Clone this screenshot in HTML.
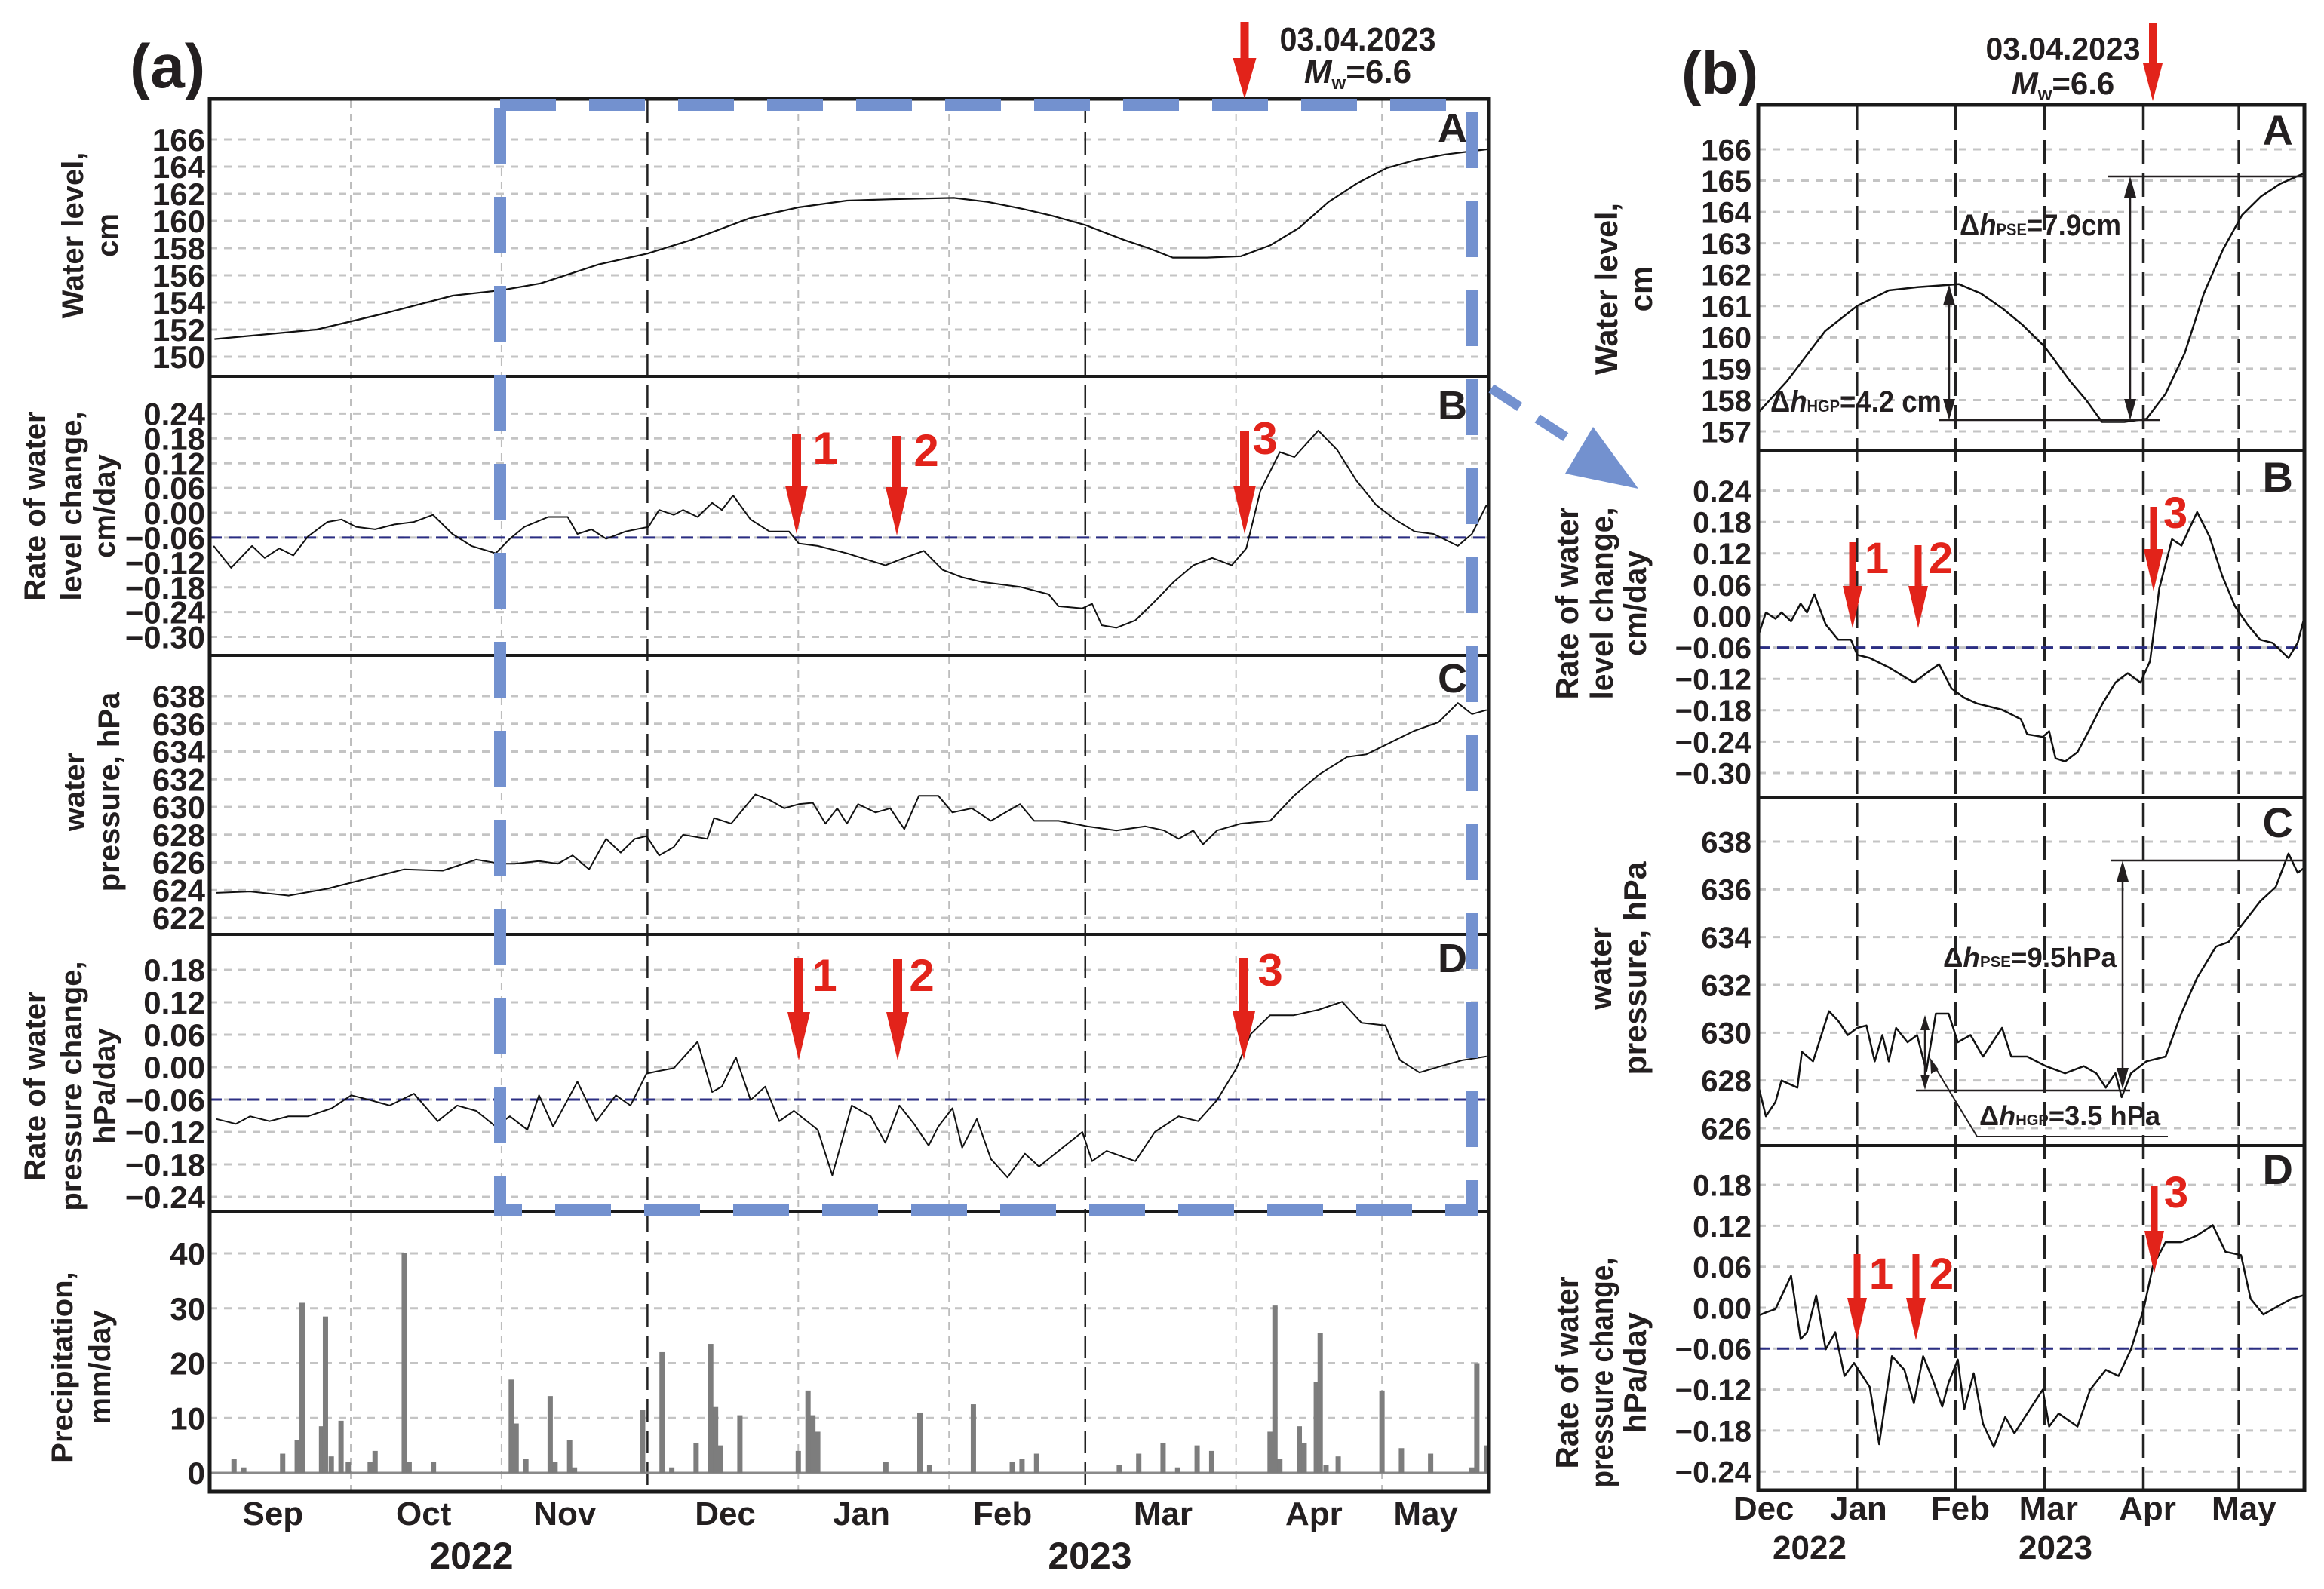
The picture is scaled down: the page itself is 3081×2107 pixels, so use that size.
<!DOCTYPE html>
<html><head><meta charset="utf-8">
<style>
html,body{margin:0;padding:0;background:#fff}
svg{display:block}
text{font-family:"Liberation Sans",Arial,sans-serif;font-weight:bold;fill:#231f20}
</style></head>
<body>
<svg id="fig" width="3081" height="2107" viewBox="0 0 3081 2107" xmlns="http://www.w3.org/2000/svg">
<rect width="3081" height="2107" fill="#ffffff"/>
<defs id="defs"></defs>
<g id="grid"></g>
<g id="series"></g>
<g id="frames"></g>
<g id="labels"></g>

<!-- panel titles -->
<text x="172" y="116" font-size="82">(a)</text>
<text x="2229" y="124" font-size="80">(b)</text>

<text x="1800" y="67" font-size="44" text-anchor="middle" textLength="207" lengthAdjust="spacingAndGlyphs">03.04.2023</text>
<text x="1800" y="110" font-size="44" text-anchor="middle"><tspan font-style="italic">M</tspan><tspan font-size="24" dy="8">w</tspan><tspan dy="-8">=6.6</tspan></text>
<text x="2735" y="79" font-size="42" text-anchor="middle" textLength="205" lengthAdjust="spacingAndGlyphs">03.04.2023</text>
<text x="2735" y="125" font-size="42" text-anchor="middle"><tspan font-style="italic">M</tspan><tspan font-size="24" dy="8">w</tspan><tspan dy="-8">=6.6</tspan></text>

<!-- panel letters -->
<text x="1945" y="188" font-size="54" text-anchor="end">A</text>
<text x="1945" y="556" font-size="54" text-anchor="end">B</text>
<text x="1945" y="918" font-size="54" text-anchor="end">C</text>
<text x="1945" y="1289" font-size="54" text-anchor="end">D</text>
<text x="3040" y="192" font-size="56" text-anchor="end">A</text>
<text x="3040" y="652" font-size="56" text-anchor="end">B</text>
<text x="3040" y="1110" font-size="56" text-anchor="end">C</text>
<text x="3040" y="1570" font-size="56" text-anchor="end">D</text>

<!-- y axis titles (a) -->
<g font-size="40" text-anchor="middle">
<text transform="translate(110,312) rotate(-90)">Water level,</text>
<text transform="translate(156,312) rotate(-90)">cm</text>
<text transform="translate(60,671) rotate(-90)">Rate of water</text>
<text transform="translate(108,671) rotate(-90)">level change,</text>
<text transform="translate(152,671) rotate(-90)">cm/day</text>
<text transform="translate(112,1050) rotate(-90)">water</text>
<text transform="translate(158,1050) rotate(-90)">pressure, hPa</text>
<text transform="translate(60,1440) rotate(-90)">Rate of water</text>
<text transform="translate(108,1440) rotate(-90)">pressure change,</text>
<text transform="translate(152,1440) rotate(-90)">hPa/day</text>
<text transform="translate(96,1813) rotate(-90)">Precipitation,</text>
<text transform="translate(146,1813) rotate(-90)">mm/day</text>
</g>
<!-- y axis titles (b) -->
<g font-size="42" text-anchor="middle">
<text transform="translate(2144,383) rotate(-90)" textLength="228" lengthAdjust="spacingAndGlyphs">Water level,</text>
<text transform="translate(2190,383) rotate(-90)">cm</text>
<text transform="translate(2092,800) rotate(-90)" textLength="255" lengthAdjust="spacingAndGlyphs">Rate of water</text>
<text transform="translate(2138,800) rotate(-90)" textLength="255" lengthAdjust="spacingAndGlyphs">level change,</text>
<text transform="translate(2182,800) rotate(-90)" textLength="140" lengthAdjust="spacingAndGlyphs">cm/day</text>
<text transform="translate(2136,1284) rotate(-90)" textLength="110" lengthAdjust="spacingAndGlyphs">water</text>
<text transform="translate(2182,1284) rotate(-90)" textLength="283" lengthAdjust="spacingAndGlyphs">pressure, hPa</text>
<text transform="translate(2092,1820) rotate(-90)" textLength="255" lengthAdjust="spacingAndGlyphs">Rate of water</text>
<text transform="translate(2138,1820) rotate(-90)" textLength="305" lengthAdjust="spacingAndGlyphs">pressure change,</text>
<text transform="translate(2182,1820) rotate(-90)" textLength="160" lengthAdjust="spacingAndGlyphs">hPa/day</text>
</g>

<!-- year labels -->
<text x="625" y="2080" font-size="50" text-anchor="middle">2022</text>
<text x="1445" y="2080" font-size="50" text-anchor="middle">2023</text>
<text x="2399" y="2067" font-size="44" text-anchor="middle">2022</text>
<text x="2725" y="2067" font-size="44" text-anchor="middle">2023</text>

<!-- blue zoom box and arrow -->
<path d="M663,139 H1951 V1604 H663 Z" fill="none" stroke="#7391cf" stroke-width="16" stroke-dasharray="74 44"/>
<path d="M1977,515 L2098,594" stroke="#7391cf" stroke-width="13" stroke-dasharray="45 28" fill="none"/>
<polygon points="2075,628 2112,566 2172,648" fill="#7391cf"/>

<!-- b annotations -->
<g stroke="#231f20" stroke-width="2.5" fill="none">
<line x1="2795" y1="234" x2="3055" y2="234"/>
<line x1="2570" y1="557" x2="2863" y2="557"/>
<line x1="2824" y1="240" x2="2824" y2="551"/>
<line x1="2584" y1="383" x2="2584" y2="551"/>
<line x1="2798" y1="1141" x2="3055" y2="1141"/>
<line x1="2814" y1="1147" x2="2814" y2="1438"/>
<line x1="2540" y1="1446" x2="2824" y2="1446"/>
<line x1="2552" y1="1352" x2="2552" y2="1440"/>
<polyline points="2561,1408 2621,1507 2874,1507" stroke-width="2"/>
</g>
<g fill="#231f20">
<polygon points="2824,234 2816,262 2832,262"/><polygon points="2824,557 2816,529 2832,529"/>
<polygon points="2584,377 2576,405 2592,405"/><polygon points="2584,557 2576,529 2592,529"/>
<polygon points="2814,1141 2806,1169 2822,1169"/><polygon points="2814,1444 2806,1416 2822,1416"/>
<polygon points="2552,1346 2546,1366 2558,1366"/><polygon points="2552,1445 2546,1425 2558,1425"/>
<polygon points="2559,1403 2560,1424 2570,1418"/>
</g>
<text x="2598" y="312" font-size="40" textLength="214" lengthAdjust="spacingAndGlyphs">Δ<tspan font-style="italic">h</tspan><tspan font-size="22">PSE</tspan>=7.9cm</text>
<text x="2347" y="546" font-size="40" textLength="227" lengthAdjust="spacingAndGlyphs">Δ<tspan font-style="italic">h</tspan><tspan font-size="22">HGP</tspan>=4.2 cm</text>
<text x="2576" y="1282" font-size="36" textLength="230" lengthAdjust="spacingAndGlyphs">Δ<tspan font-style="italic">h</tspan><tspan font-size="20">PSE</tspan>=9.5hPa</text>
<text x="2624" y="1492" font-size="36" textLength="240" lengthAdjust="spacingAndGlyphs">Δ<tspan font-style="italic">h</tspan><tspan font-size="20">HGP</tspan>=3.5 hPa</text>

<g id="arrows"></g>
</svg>

<script>
// ---------- DATA (days since 2 Sep 2022) ----------
const wlDays = [1,16,22,36,50,60,68,80,90,99,111,121,131,140,153,160,167,173,180,188,193,198,205,212,218,224,230,236,242,248,254,263];
const wlVals = [151.3,151.8,152.0,153.2,154.5,154.9,155.4,156.8,157.6,158.6,160.2,161.0,161.5,161.6,161.7,161.4,160.9,160.4,159.7,158.6,158.0,157.3,157.3,157.4,158.2,159.5,161.4,162.8,163.9,164.5,164.9,165.3];

const rateDays = [0.8,4.4,8.7,11.3,14.3,17.2,20.2,24.2,27.1,30.1,34,38,42,45.9,49.9,53.8,58.8,61.7,64.7,69.6,73.6,75.6,78.5,81.5,85.5,90.2,92.4,95.4,97.3,100.3,103.3,105.3,107.6,111.2,115.1,119.1,121.1,125,131,138.9,142.8,146.8,150.7,154.7,158.7,166.6,172.5,174.5,179.4,181.4,183.4,186.4,190.3,194.3,198.2,202.2,206.1,210.1,213.1,216,220,223,227.9,231.8,235.8,239.8,243.7,247.7,251.6,256.6,259.5,262.5];
const rateVals = [-0.080,-0.133,-0.080,-0.109,-0.086,-0.103,-0.057,-0.022,-0.016,-0.034,-0.040,-0.028,-0.022,-0.005,-0.051,-0.080,-0.098,-0.063,-0.034,-0.010,-0.010,-0.051,-0.040,-0.063,-0.045,-0.034,0.007,-0.005,0.007,-0.010,0.024,0.007,0.042,-0.016,-0.045,-0.045,-0.074,-0.080,-0.098,-0.127,-0.109,-0.092,-0.138,-0.156,-0.167,-0.179,-0.197,-0.226,-0.231,-0.220,-0.272,-0.278,-0.260,-0.214,-0.167,-0.127,-0.109,-0.127,-0.086,0.053,0.147,0.135,0.199,0.152,0.077,0.019,-0.016,-0.045,-0.051,-0.080,-0.051,0.019];

const pressDays = [1.4,8.3,16.2,24.2,32,40,47.9,54.8,59.8,62.7,67.7,71.6,74.6,78,81.5,84.5,87.4,89.8,92.4,95.4,97.3,102.3,103.7,107.2,112.2,115.1,118.1,121.1,124,126.6,129,131,133.3,136.9,139.9,142.8,145.8,149.8,152.7,156.7,160.6,163.6,166.6,169.5,174.5,180.4,186.4,192.3,196.2,199.2,202.2,204.2,207.1,212,218,222.9,227.9,233.8,237.8,247.7,252.6,256.6,259.5,262.5];
const pressVals = [623.8,623.9,623.6,624.1,624.8,625.5,625.4,626.2,625.9,625.9,626.1,625.9,626.5,625.5,627.7,626.7,627.7,627.9,626.5,627.1,628.0,627.7,629.2,628.8,630.9,630.5,629.9,630.2,630.3,628.8,629.9,628.8,630.2,629.6,629.9,628.4,630.8,630.8,629.6,629.9,629.0,629.6,630.2,629.0,629.0,628.6,628.3,628.6,628.3,627.7,628.3,627.3,628.3,628.8,629.0,630.8,632.3,633.6,633.8,635.5,636.1,637.5,636.7,637.0];

const dpDays = [1.4,5.4,8.3,12.3,16.2,20.2,25.1,29.1,33,37,42,46.9,50.9,54.8,58.8,61.7,65.3,67.7,70.6,75.6,79.5,83.5,86.5,89.8,92.4,95.4,100.3,103.3,105.3,108.2,111.2,114.2,117.1,120.1,125,128,132,135.9,138.9,141.8,144.8,147.8,149.8,152.7,154.7,157.7,160.6,164,167.6,170.5,174.5,179.4,181.4,184.4,190.3,194.3,199.2,203.2,207.1,211.1,214,218,222.9,227.9,232.8,236.8,241.7,244.7,248.7,253.6,257.6,262.5];
const dpVals = [-0.096,-0.105,-0.091,-0.100,-0.091,-0.091,-0.076,-0.052,-0.061,-0.071,-0.049,-0.100,-0.071,-0.081,-0.110,-0.091,-0.116,-0.052,-0.110,-0.027,-0.100,-0.052,-0.071,-0.012,-0.007,-0.002,0.047,-0.046,-0.036,0.018,-0.061,-0.036,-0.100,-0.081,-0.116,-0.200,-0.071,-0.091,-0.140,-0.071,-0.105,-0.145,-0.110,-0.076,-0.149,-0.096,-0.170,-0.204,-0.160,-0.184,-0.155,-0.120,-0.174,-0.155,-0.174,-0.120,-0.091,-0.100,-0.061,-0.002,0.061,0.096,0.096,0.106,0.121,0.082,0.077,0.013,-0.010,0.003,0.013,0.020];

const rainDays = [5,7,15,18,19,23,23.8,25,27,28.5,33,34,40,41,46,62,63,65,70,71,74,75,89,93,95,100,103,104,105,109,121,123,124,125,139,146,148,157,165,167,170,187,191,196,199,203,206,218,219,220,224,225,227.5,228.3,229.5,232,241,245,251,259.5,260.5,262.5];
const rainVals = [2.5,1,3.5,6,31,8.5,28.5,3,9.5,2,2,4,40,2,2,17,9,2.5,14,2,6,1,11.5,22,1,5.5,23.5,12,5,10.5,4,15,10.5,7.5,2,11,1.5,12.5,2,2.5,3.5,1.5,3.5,5.5,1,5,4,7.5,30.5,2.5,8.5,5.5,16.5,25.5,1.5,3,15,4.5,3.5,1,20,5];

const levelTicksA = [150,152,154,156,158,160,162,164,166];
const levelTicksB = [157,158,159,160,161,162,163,164,165,166];
const rateTicks = [-0.30,-0.24,-0.18,-0.12,-0.06,0.00,0.06,0.12,0.18,0.24];
const pressTicksA = [622,624,626,628,630,632,634,636,638];
const pressTicksB = [626,628,630,632,634,636,638];
const dpTicks = [-0.24,-0.18,-0.12,-0.06,0.00,0.06,0.12,0.18];
const rainTicks = [0,10,20,30,40];
const thresholdValue = -0.06;

const monthNamesA = ['Sep','Oct','Nov','Dec','Jan','Feb','Mar','Apr','May'];
const monthLabelDaysA = [13,44,73,106,134,163,196,227,250];
const monthNamesB = ['Dec','Jan','Feb','Mar','Apr','May'];
const monthLabelDaysB = [91.7,121.5,153.5,181.2,212.3,242.6];
const greyMonthDaysA = [29,60,121,152,211,241];
const blackMonthDaysA = [90,180];
const monthDaysB = [121,152,180,211,241];

// ---------- helpers ----------
const NS = 'http://www.w3.org/2000/svg';
function lin(d0,d1,r0,r1){ return v => r0 + (v-d0)*(r1-r0)/(d1-d0); }
function mk(tag, attrs, parent){ const e=document.createElementNS(NS,tag); for(const k in attrs) e.setAttribute(k,attrs[k]); parent.appendChild(e); return e; }
const gGrid=document.getElementById('grid'), gSer=document.getElementById('series'), gFr=document.getElementById('frames'), gLab=document.getElementById('labels'), gArr=document.getElementById('arrows'), defs=document.getElementById('defs');

const xA = lin(0,263,278,1974);
const xB = lin(90,261.6,2331,3055);
const fmtInt = v => String(v);
const fmtRate = v => (v < -1e-9 ? '\u2212' : '') + Math.abs(v).toFixed(2);

const panels = [
 {id:'a-level', x:xA, y:lin(150,166,473,185), ticks:levelTicksA, fmt:fmtInt, L:278,R:1974,T:131,B:499, days:wlDays, vals:wlVals, lx:272, fs:42, w:2.2},
 {id:'a-rate', x:xA, y:lin(0,0.06,680,647.1), ticks:rateTicks, fmt:fmtRate, L:278,R:1974,T:499,B:869, days:rateDays, vals:rateVals, lx:272, fs:42, ref:true, w:2},
 {id:'a-pressure', x:xA, y:lin(622,638,1217,923), ticks:pressTicksA, fmt:fmtInt, L:278,R:1974,T:869,B:1239, days:pressDays, vals:pressVals, lx:272, fs:42, w:2},
 {id:'a-pressure-rate', x:xA, y:lin(0,0.06,1415,1372), ticks:dpTicks, fmt:fmtRate, L:278,R:1974,T:1239,B:1607, days:dpDays, vals:dpVals, lx:272, fs:42, ref:true, w:2},
 {id:'a-precipitation', x:xA, y:lin(0,40,1953,1662), ticks:rainTicks, fmt:fmtInt, L:278,R:1974,T:1607,B:1978, bars:true, lx:272, fs:42},
 {id:'b-level', x:xB, y:lin(157,166,572,198), ticks:levelTicksB, fmt:fmtInt, L:2331,R:3055,T:139,B:598, days:wlDays, vals:wlVals, lx:2322, fs:40, w:2.5},
 {id:'b-rate', x:xB, y:lin(0,0.06,817,775.4), ticks:rateTicks, fmt:fmtRate, L:2331,R:3055,T:598,B:1058, days:rateDays, vals:rateVals, lx:2322, fs:40, ref:true, w:2.5},
 {id:'b-pressure', x:xB, y:lin(626,638,1496,1116), ticks:pressTicksB, fmt:fmtInt, L:2331,R:3055,T:1058,B:1519, days:pressDays, vals:pressVals, lx:2322, fs:40, w:2.5},
 {id:'b-pressure-rate', x:xB, y:lin(0,0.06,1734,1679.7), ticks:dpTicks, fmt:fmtRate, L:2331,R:3055,T:1519,B:1976, days:dpDays, vals:dpVals, lx:2322, fs:40, ref:true, w:2.5}
];

panels.forEach(p => {
  const cp = mk('clipPath', {id:'clip-'+p.id}, defs);
  
  
  mk('rect', {x:p.L, y:p.T, width:p.R-p.L, height:p.B-p.T}, cp);

  p.ticks.forEach(t => {
    const gl = mk('line', {x1:p.L, x2:p.R, y1:p.y(t), y2:p.y(t), stroke:'#c4c4c4', 'stroke-width':3, 'stroke-dasharray':'10 9'}, gGrid);
    
    
    const tl = mk('text', {x:p.lx, y:p.y(t)+p.fs*0.36, 'font-size':p.fs, 'text-anchor':'end'}, gLab);
    tl.textContent = p.fmt(t);
    
    
  });

  if (p.ref) {
    const rl = mk('line', {x1:p.L, x2:p.R, y1:p.y(thresholdValue), y2:p.y(thresholdValue), stroke:'#2b2e83', 'stroke-width':3, 'stroke-dasharray':'16 9'}, gSer);
    
    
  }

  if (p.bars) {
    const base = mk('line', {x1:p.L, x2:p.R, y1:p.y(0), y2:p.y(0), stroke:'#8a8a8a', 'stroke-width':3}, gSer);
    
    
    rainDays.forEach((d,i) => {
      const v = rainVals[i];
      const b = mk('rect', {x:p.x(d)-3.5, y:p.y(v), width:7, height:p.y(0)-p.y(v), fill:'#7d7d7d'}, gSer);
      
      
    });
  } else {
    let dstr = '';
    p.days.forEach((d,i) => { dstr += (i ? ' L' : 'M') + p.x(d).toFixed(1) + ',' + p.y(p.vals[i]).toFixed(1); });
    const line = mk('path', {d:dstr, fill:'none', stroke:'#111', 'stroke-width':p.w, 'stroke-linejoin':'round', 'clip-path':'url(#clip-'+p.id+')'}, gSer);
    
    
  }
});

// vertical month gridlines
greyMonthDaysA.forEach(d => {
  const v = mk('line', {x1:xA(d), x2:xA(d), y1:133, y2:1976, stroke:'#bdbdbd', 'stroke-width':2, 'stroke-dasharray':'10 8'}, gGrid);
  
  
});
blackMonthDaysA.forEach(d => {
  const v = mk('line', {x1:xA(d), x2:xA(d), y1:133, y2:1976, stroke:'#222', 'stroke-width':2.5, 'stroke-dasharray':'30 12'}, gGrid);
  
  
});
monthDaysB.forEach(d => {
  const v = mk('line', {x1:xB(d), x2:xB(d), y1:141, y2:1974, stroke:'#222', 'stroke-width':3.5, 'stroke-dasharray':'32 12'}, gGrid);
  
  
});

// month labels
monthNamesA.forEach((m,i) => {
  const t = mk('text', {x:xA(monthLabelDaysA[i]), y:2022, 'font-size':44, 'text-anchor':'middle'}, gLab);
  t.textContent = m;
  
  
});
monthNamesB.forEach((m,i) => {
  const t = mk('text', {x:xB(monthLabelDaysB[i]), y:2015, 'font-size':44, 'text-anchor':'middle'}, gLab);
  t.textContent = m;
  
  
});

// frames
[[278,131,1974,1978],[2331,139,3055,1976]].forEach(f => {
  const r = mk('rect', {x:f[0], y:f[1], width:f[2]-f[0], height:f[3]-f[1], fill:'none', stroke:'#1a1a1a', 'stroke-width':5}, gFr);
  
  
});
[[278,1974,499],[278,1974,869],[278,1974,1239],[278,1974,1607],[2331,3055,598],[2331,3055,1058],[2331,3055,1519]].forEach(s => {
  const l = mk('line', {x1:s[0], x2:s[1], y1:s[2], y2:s[2], stroke:'#1a1a1a', 'stroke-width':4}, gFr);
  
  
});

// red event arrows
function arrowD(x,y1,y2,sw,hw,hl){ return `M${x-sw/2},${y1} L${x+sw/2},${y1} L${x+sw/2},${y2-hl} L${x+hw/2},${y2-hl} L${x},${y2} L${x-hw/2},${y2-hl} L${x-sw/2},${y2-hl} Z`; }
const arrowSpecs = [
 [1650,29,131,11,31,54,'',0,0,0],
 [1056,576,708,12,30,64,'1',1094,615,60],[1189,578,710,12,30,64,'2',1228,618,60],[1650,571,708,12,30,64,'3',1677,602,60],
 [1059,1270,1406,12,30,64,'1',1093,1314,60],[1190,1272,1406,12,30,64,'2',1222,1314,60],[1649,1270,1405,12,30,64,'3',1684,1307,60],
 [2854,30,134,10,26,50,'',0,0,0],
 [2456,719,833,9,26,56,'1',2488,760,58],[2543,723,833,9,26,56,'2',2573,760,58],[2855,672,784,9,26,56,'3',2884,700,58],
 [2462,1663,1777,9,26,56,'1',2494,1709,58],[2540,1663,1777,9,26,56,'2',2574,1709,58],[2856,1572,1688,9,26,56,'3',2885,1601,58]
];
arrowSpecs.forEach(a => {
  const p = mk('path', {d:arrowD(a[0],a[1],a[2],a[3],a[4],a[5]), fill:'#e2231a'}, gArr);
  
  
  if (a[6]) {
    const t = mk('text', {x:a[7], y:a[8], 'font-size':a[9], 'text-anchor':'middle', style:'fill:#e2231a'}, gArr);
    t.textContent = a[6];
    
    
  }
});
</script>
</body></html>
